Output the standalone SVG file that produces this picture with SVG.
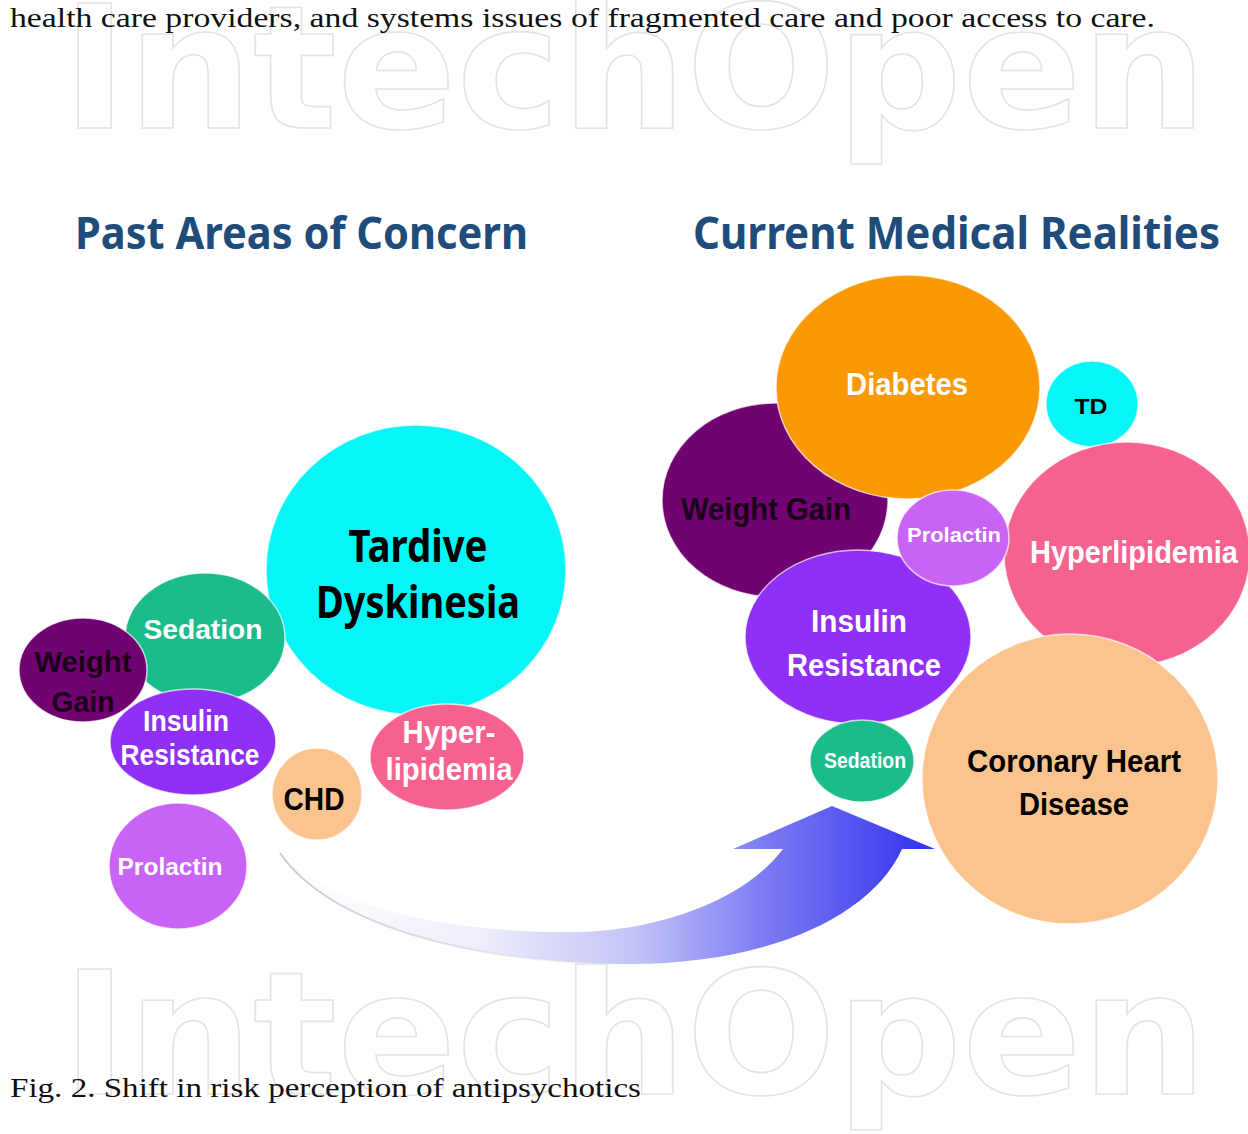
<svg xmlns="http://www.w3.org/2000/svg" width="1248" height="1134" viewBox="0 0 1248 1134">
  <defs>
    <style>
      .page { font-family: "Liberation Serif", "Times New Roman", serif; font-size: 28px; fill: #111; }
      .mark { font-family: "DejaVu Sans", "Liberation Sans", sans-serif; font-weight: 700; font-size: 172px; fill: none; stroke: #e4e4e4; stroke-width: 1.6; }
      .title { font-family: "Noto Sans", "Open Sans", sans-serif; font-weight: 700; font-size: 44px; fill: #204c7c; }
      .lbl { font-family: "Liberation Sans", Arial, sans-serif; font-weight: 700; text-anchor: middle; }
      .big { font-family: "Noto Sans", "Open Sans", sans-serif; font-weight: 700; text-anchor: middle; font-size: 44px; fill: #000; }
      .w { fill: #ffffff; }
      .k { fill: #000000; }
      .kp { fill: #1a0018; }
      .bub { stroke: #ffffff; stroke-width: 1.5; stroke-opacity: 0.7; }
      .cyan { fill: #04f6f6; }
      .green { fill: #1bbc8b; }
      .plum { fill: #700272; }
      .violet { fill: #9030f6; }
      .lilac { fill: #c963f6; }
      .pink { fill: #f6628f; }
      .peach { fill: #fbc48f; }
      .orange { fill: #fb9904; }
    </style>
    <linearGradient id="shaftGrad" gradientUnits="userSpaceOnUse" x1="285" y1="0" x2="925" y2="0">
      <stop offset="0" stop-color="#ffffff" stop-opacity="0.9"/>
      <stop offset="0.3" stop-color="#eeeefc"/>
      <stop offset="0.55" stop-color="#c2c2f7"/>
      <stop offset="0.75" stop-color="#7b7bf4"/>
      <stop offset="1" stop-color="#3535ef"/>
    </linearGradient>
    <linearGradient id="edgeGrad" gradientUnits="userSpaceOnUse" x1="280" y1="0" x2="620" y2="0">
      <stop offset="0" stop-color="#c8c8d2"/>
      <stop offset="1" stop-color="#c8c8d2" stop-opacity="0"/>
    </linearGradient>
  </defs>

  <rect width="1248" height="1134" fill="#ffffff"/>

  <!-- page watermark -->
  <text class="mark" x="62" y="128" textLength="1145" lengthAdjust="spacingAndGlyphs">IntechOpen</text>
  <text class="mark" x="62" y="1094" textLength="1145" lengthAdjust="spacingAndGlyphs">IntechOpen</text>

  <!-- running text and caption -->
  <text class="page" x="10" y="27" textLength="1145" lengthAdjust="spacingAndGlyphs">health care providers, and systems issues of fragmented care and poor access to care.</text>
  <text class="page" x="10" y="1097" textLength="631" lengthAdjust="spacingAndGlyphs">Fig. 2. Shift in risk perception of antipsychotics</text>

  <!-- headings -->
  <text class="title" x="75" y="249" textLength="453" lengthAdjust="spacingAndGlyphs">Past Areas of Concern</text>
  <text class="title" x="693" y="249" textLength="527" lengthAdjust="spacingAndGlyphs">Current Medical Realities</text>

  <!-- connector: curved shift arrow -->
  <g id="connectors">
    <path d="M 280 853 C 330 925, 470 962, 620 964 C 760 966, 870 920, 902 849 L 935 849 L 832 806 L 733 849 L 783 849 C 745 900, 660 930, 580 932 C 440 934, 330 905, 280 853 Z" fill="url(#shaftGrad)"/>
    <path d="M 280 853 C 330 925, 470 962, 620 964" fill="none" stroke="url(#edgeGrad)" stroke-width="2"/>
  </g>

  <!-- past areas of concern -->
  <g id="past-tardive-dyskinesia">
    <ellipse class="bub cyan" cx="416" cy="570" rx="150" ry="145"/>
    <text class="big" x="418" y="562" textLength="139" lengthAdjust="spacingAndGlyphs">Tardive</text>
    <text class="big" x="418" y="618" textLength="204" lengthAdjust="spacingAndGlyphs">Dyskinesia</text>
  </g>
  <g id="past-sedation">
    <ellipse class="bub green" cx="205" cy="638" rx="80" ry="65"/>
    <text class="lbl w" x="203" y="639" font-size="28" textLength="119" lengthAdjust="spacingAndGlyphs">Sedation</text>
  </g>
  <g id="past-weight-gain">
    <ellipse class="bub plum" cx="83" cy="670" rx="64" ry="52"/>
    <text class="lbl kp" x="83" y="672" font-size="30" textLength="97" lengthAdjust="spacingAndGlyphs">Weight</text>
    <text class="lbl kp" x="83" y="712" font-size="30" textLength="63" lengthAdjust="spacingAndGlyphs">Gain</text>
  </g>
  <g id="past-insulin-resistance">
    <ellipse class="bub violet" cx="193" cy="742" rx="83" ry="53"/>
    <text class="lbl w" x="186" y="731" font-size="29" textLength="86" lengthAdjust="spacingAndGlyphs">Insulin</text>
    <text class="lbl w" x="190" y="765" font-size="29" textLength="139" lengthAdjust="spacingAndGlyphs">Resistance</text>
  </g>
  <g id="past-chd">
    <ellipse class="bub peach" cx="317" cy="794" rx="45" ry="46"/>
    <text class="lbl k" x="314" y="810" font-size="32" textLength="61" lengthAdjust="spacingAndGlyphs">CHD</text>
  </g>
  <g id="past-hyperlipidemia">
    <ellipse class="bub pink" cx="447" cy="757" rx="77" ry="53"/>
    <text class="lbl w" x="449" y="743" font-size="32" textLength="93" lengthAdjust="spacingAndGlyphs">Hyper-</text>
    <text class="lbl w" x="449" y="780" font-size="32" textLength="127" lengthAdjust="spacingAndGlyphs">lipidemia</text>
  </g>
  <g id="past-prolactin">
    <ellipse class="bub lilac" cx="178" cy="866" rx="69" ry="63"/>
    <text class="lbl w" x="170" y="875" font-size="24" textLength="105" lengthAdjust="spacingAndGlyphs">Prolactin</text>
  </g>

  <!-- current medical realities -->
  <g id="now-weight-gain">
    <ellipse class="bub plum" cx="775" cy="500" rx="113" ry="97"/>
    <text class="lbl kp" x="766" y="520" font-size="32" textLength="170" lengthAdjust="spacingAndGlyphs">Weight Gain</text>
  </g>
  <g id="now-diabetes">
    <ellipse class="bub orange" cx="908" cy="387" rx="132" ry="112"/>
    <text class="lbl w" x="907" y="395" font-size="32" textLength="122" lengthAdjust="spacingAndGlyphs">Diabetes</text>
  </g>
  <g id="now-td">
    <ellipse class="bub cyan" cx="1092" cy="404" rx="46" ry="43"/>
    <text class="lbl k" x="1091" y="414" font-size="22" textLength="33" lengthAdjust="spacingAndGlyphs">TD</text>
  </g>
  <g id="now-hyperlipidemia">
    <ellipse class="bub pink" cx="1127" cy="554" rx="123" ry="112"/>
    <text class="lbl w" x="1134" y="563" font-size="32" textLength="208" lengthAdjust="spacingAndGlyphs">Hyperlipidemia</text>
  </g>
  <g id="now-coronary-heart-disease">
    <ellipse class="bub peach" cx="1070" cy="779" rx="148" ry="145"/>
    <text class="lbl k" x="1074" y="772" font-size="32" textLength="214" lengthAdjust="spacingAndGlyphs">Coronary Heart</text>
    <text class="lbl k" x="1074" y="815" font-size="32" textLength="110" lengthAdjust="spacingAndGlyphs">Disease</text>
  </g>
  <g id="now-insulin-resistance">
    <ellipse class="bub violet" cx="858" cy="637" rx="113" ry="87"/>
    <text class="lbl w" x="859" y="632" font-size="32" textLength="96" lengthAdjust="spacingAndGlyphs">Insulin</text>
    <text class="lbl w" x="864" y="676" font-size="32" textLength="154" lengthAdjust="spacingAndGlyphs">Resistance</text>
  </g>
  <g id="now-prolactin">
    <ellipse class="bub lilac" cx="953" cy="538" rx="56" ry="48"/>
    <text class="lbl w" x="954" y="542" font-size="21" textLength="94" lengthAdjust="spacingAndGlyphs">Prolactin</text>
  </g>
  <g id="now-sedation">
    <ellipse class="bub green" cx="862" cy="761" rx="52" ry="41"/>
    <text class="lbl w" x="865" y="768" font-size="22" font-weight="400" textLength="82" lengthAdjust="spacingAndGlyphs">Sedation</text>
  </g>
</svg>
